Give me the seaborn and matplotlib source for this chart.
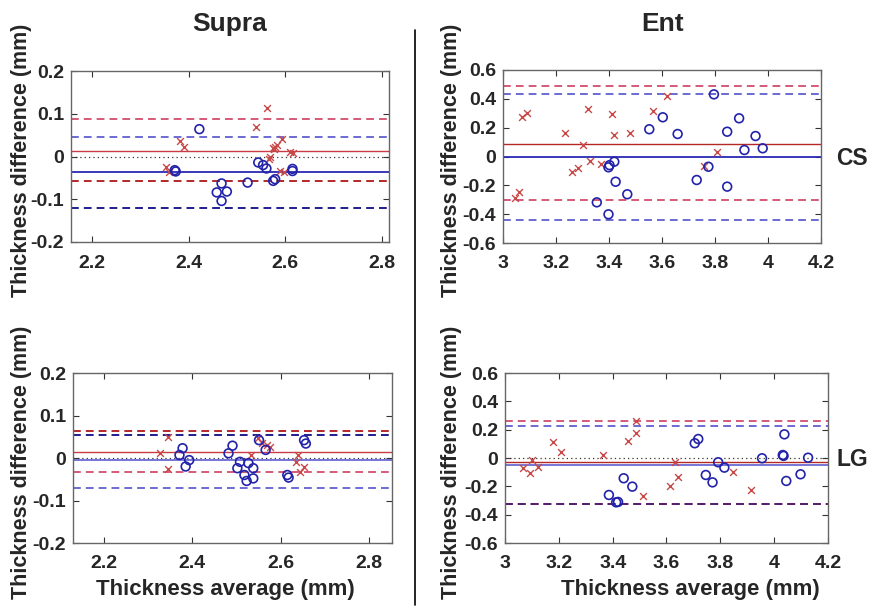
import numpy as np
import pandas as pd
import matplotlib
matplotlib.use("Agg")
import matplotlib.pyplot as plt
from matplotlib.lines import Line2D
from matplotlib.ticker import FuncFormatter, FixedLocator
import seaborn as sns

# ---------------- data ----------------
# Supra / CS
tl_red_x = [2.562, 2.539, 2.382, 2.390, 2.593, 2.579, 2.575, 2.583, 2.577, 2.568, 2.566, 2.610, 2.617, 2.353, 2.359, 2.589, 2.597]
tl_red_y = [0.114, 0.068, 0.036, 0.023, 0.041, 0.023, 0.020, 0.026, 0.018, 0.000, -0.006, 0.010, 0.008, -0.024, -0.036, -0.034, -0.037]
tl_blue_x = [2.422, 2.371, 2.373, 2.468, 2.458, 2.479, 2.468, 2.522, 2.544, 2.554, 2.561, 2.575, 2.579, 2.615, 2.615]
tl_blue_y = [0.064, -0.032, -0.035, -0.063, -0.084, -0.082, -0.104, -0.061, -0.014, -0.020, -0.028, -0.057, -0.053, -0.034, -0.029]
tl_red_lines = [0.087, 0.0136, -0.057]   # upper limit, mean, lower limit
tl_blue_lines = [0.046, -0.036, -0.120]

# Ent / CS
tr_red_x = [3.045, 3.060, 3.073, 3.092, 3.234, 3.262, 3.282, 3.303, 3.322, 3.328, 3.370, 3.413, 3.417, 3.479, 3.567, 3.618, 3.760, 3.806]
tr_red_y = [-0.290, -0.244, 0.272, 0.304, 0.161, -0.110, -0.078, 0.080, 0.327, -0.029, -0.052, 0.295, 0.149, 0.161, 0.318, 0.420, -0.064, 0.033]
tr_blue_x = [3.354, 3.398, 3.398, 3.402, 3.420, 3.425, 3.469, 3.552, 3.603, 3.659, 3.731, 3.775, 3.796, 3.846, 3.846, 3.891, 3.911, 3.953, 3.980]
tr_blue_y = [-0.318, -0.401, -0.075, -0.060, -0.036, -0.175, -0.262, 0.189, 0.272, 0.156, -0.163, -0.071, 0.431, 0.172, -0.209, 0.265, 0.045, 0.142, 0.057]
tr_red_lines = [0.491, 0.085, -0.304]
tr_blue_lines = [0.431, 0.000, -0.440]

# Supra / LG
bl_red_x = [2.346, 2.327, 2.346, 2.532, 2.549, 2.557, 2.568, 2.576, 2.640, 2.634, 2.652, 2.644]
bl_red_y = [0.050, 0.011, -0.026, 0.007, 0.046, 0.035, 0.031, 0.027, 0.007, -0.009, -0.020, -0.032]
bl_blue_x = [2.378, 2.371, 2.393, 2.385, 2.491, 2.482, 2.508, 2.502, 2.518, 2.523, 2.527, 2.538, 2.538, 2.551, 2.566, 2.615, 2.618, 2.653, 2.657]
bl_blue_y = [0.023, 0.007, -0.005, -0.020, 0.029, 0.011, -0.009, -0.024, -0.040, -0.054, -0.012, -0.048, -0.024, 0.042, 0.019, -0.040, -0.046, 0.042, 0.034]
bl_red_lines = [0.0635, 0.014, -0.033]
bl_blue_lines = [0.055, -0.005, -0.070]

# Ent / LG
br_red_x = [3.068, 3.093, 3.100, 3.121, 3.178, 3.209, 3.365, 3.456, 3.488, 3.485, 3.514, 3.612, 3.644, 3.632, 3.846, 3.914]
br_red_y = [-0.068, -0.108, -0.014, -0.061, 0.111, 0.045, 0.021, 0.122, 0.179, 0.263, -0.268, -0.195, -0.134, -0.030, -0.096, -0.226]
br_blue_x = [3.386, 3.413, 3.420, 3.441, 3.473, 3.705, 3.718, 3.746, 3.771, 3.792, 3.815, 3.955, 4.032, 4.035, 4.038, 4.045, 4.098, 4.126]
br_blue_y = [-0.261, -0.313, -0.310, -0.143, -0.202, 0.104, 0.134, -0.120, -0.172, -0.030, -0.068, -0.002, 0.021, 0.015, 0.167, -0.162, -0.115, 0.002]
br_red_lines = [0.261, -0.026, -0.322]
br_blue_lines = [0.228, -0.049, -0.322]

col_titles = ["Supra", "Ent"]
row_titles = ["CS", "LG"]
ylab = "Thickness difference (mm)"
xlab = "Thickness average (mm)"

supra_xticks = [2.2, 2.4, 2.6, 2.8]
ent_xticks = [3.0, 3.2, 3.4, 3.6, 3.8, 4.0, 4.2]
supra_yticks = [-0.2, -0.1, 0.0, 0.1, 0.2]
ent_yticks = [-0.6, -0.4, -0.2, 0.0, 0.2, 0.4, 0.6]

# ---------------- style ----------------
sns.set_theme(style="white")
plt.rcParams['font.family'] = ['Liberation Sans', 'DejaVu Sans']
plt.rcParams['axes.unicode_minus'] = False

RED = "#c83c46"
RED_LIGHT = "#d45a78"
BLUE = "#2a2ab4"
BLUE_LIGHT = "#6a6ad2"
BLUE_DARK = "#1e1e8c"
RED_DARK = "#b42828"

fig = plt.figure(figsize=(8.77, 6.11), dpi=100)
W, H = 877, 611

def box(l, t, r, b):
    return [l / W, 1 - b / H, (r - l) / W, (b - t) / H]

panels = [
    dict(rect=box(71, 71, 389, 242), xlim=(2.156, 2.815), ylim=(-0.2, 0.2), xt=supra_xticks, yt=supra_yticks,
         rx=tl_red_x, ry=tl_red_y, bx=tl_blue_x, by=tl_blue_y, rl=tl_red_lines, bl=tl_blue_lines,
         dotted=True, lc=[RED_LIGHT, RED, RED_DARK], bc=[BLUE_LIGHT, BLUE, BLUE_DARK]),
    dict(rect=box(503, 70, 821, 243), xlim=(3.0, 4.2), ylim=(-0.6, 0.6), xt=ent_xticks, yt=ent_yticks,
         rx=tr_red_x, ry=tr_red_y, bx=tr_blue_x, by=tr_blue_y, rl=tr_red_lines, bl=tr_blue_lines,
         dotted=False, lc=[RED_LIGHT, RED_DARK, RED_LIGHT], bc=[BLUE_LIGHT, BLUE, BLUE_LIGHT]),
    dict(rect=box(73, 373, 392, 543), xlim=(2.130, 2.852), ylim=(-0.2, 0.2), xt=supra_xticks, yt=supra_yticks,
         rx=bl_red_x, ry=bl_red_y, bx=bl_blue_x, by=bl_blue_y, rl=bl_red_lines, bl=bl_blue_lines,
         dotted=True, lc=[RED_DARK, RED, RED_LIGHT], bc=[BLUE_DARK, BLUE_LIGHT, BLUE_LIGHT]),
    dict(rect=box(505, 373, 828, 543), xlim=(3.0, 4.2), ylim=(-0.6, 0.6), xt=ent_xticks, yt=ent_yticks,
         rx=br_red_x, ry=br_red_y, bx=br_blue_x, by=br_blue_y, rl=br_red_lines, bl=br_blue_lines,
         dotted=True, lc=[RED_LIGHT, RED_DARK, "#5a1e6e"], bc=[BLUE_LIGHT, BLUE_LIGHT, "#5a1e6e"]),
]

fmt = FuncFormatter(lambda v, p: f"{v:g}")
dash = (0, (4.0, 2.6))

for i, p in enumerate(panels):
    ax = fig.add_axes(p["rect"])
    red_df = pd.DataFrame({"x": p["rx"], "y": p["ry"]})
    blue_df = pd.DataFrame({"x": p["bx"], "y": p["by"]})
    if p["dotted"]:
        ax.axhline(0, color="#333333", lw=0.9, ls=(0, (1, 2.5)), zorder=1)
    # blue lines
    ax.axhline(p["bl"][0], color=p["bc"][0], lw=1.4, ls=dash, zorder=2)
    ax.axhline(p["bl"][1], color=p["bc"][1], lw=1.3, ls="-", zorder=2)
    ax.axhline(p["bl"][2], color=p["bc"][2], lw=1.4, ls=dash, zorder=2)
    # red lines
    ax.axhline(p["rl"][0], color=p["lc"][0], lw=1.4, ls=dash, zorder=2)
    ax.axhline(p["rl"][1], color=p["lc"][1], lw=1.0, ls="-", zorder=2)
    ax.axhline(p["rl"][2], color=p["lc"][2], lw=1.4, ls=dash, zorder=2)

    sns.scatterplot(data=red_df, x="x", y="y", ax=ax, marker="x", s=24, color="#c84848",
                    linewidth=1.0, zorder=3)
    sns.scatterplot(data=blue_df, x="x", y="y", ax=ax, marker="o", s=40, facecolor="none",
                    edgecolor="#2222aa", linewidth=1.2, zorder=4)

    ax.set_xlim(*p["xlim"])
    ax.set_ylim(*p["ylim"])
    ax.xaxis.set_major_locator(FixedLocator(p["xt"]))
    ax.yaxis.set_major_locator(FixedLocator(p["yt"]))
    ax.xaxis.set_major_formatter(fmt)
    ax.yaxis.set_major_formatter(fmt)
    ax.set_xlabel("")
    ax.set_ylabel("")
    ax.tick_params(direction="in", length=4, width=0.8, color="#333333",
                   top=True, right=True, bottom=True, left=True,
                   labelsize=14)
    ax.tick_params(axis="x", pad=9)
    ax.tick_params(axis="y", pad=5)
    for lab in ax.get_xticklabels() + ax.get_yticklabels():
        lab.set_fontweight("bold")
    for s in ax.spines.values():
        s.set_color("#666666")
        s.set_linewidth(1.0)

# text labels
fig.text(230 / W, 1 - 24 / H, col_titles[0], ha="center", va="center", fontsize=19, fontweight="bold")
fig.text(663 / W, 1 - 24 / H, col_titles[1], ha="center", va="center", fontsize=19, fontweight="bold")
fig.text(852 / W, 1 - 158 / H, row_titles[0], ha="center", va="center", fontsize=16.5, fontweight="bold")
fig.text(852 / W, 1 - 460 / H, row_titles[1], ha="center", va="center", fontsize=16.5, fontweight="bold")

for (xc, yc) in [(22, 160), (452, 160), (22, 462), (452, 462)]:
    fig.text(xc / W, 1 - yc / H, ylab, ha="center", va="center", rotation=90,
             fontsize=15.5, fontweight="bold")
for (xc, yc) in [(225, 590), (690, 590)]:
    fig.text(xc / W, 1 - yc / H, xlab, ha="center", va="center", fontsize=16, fontweight="bold")

# vertical separator
fig.add_artist(Line2D([415 / W, 415 / W], [1 - 30 / H, 1 - 605 / H], color="black", lw=1.2,
                      transform=fig.transFigure))

fig.savefig("out.png", dpi=100)
